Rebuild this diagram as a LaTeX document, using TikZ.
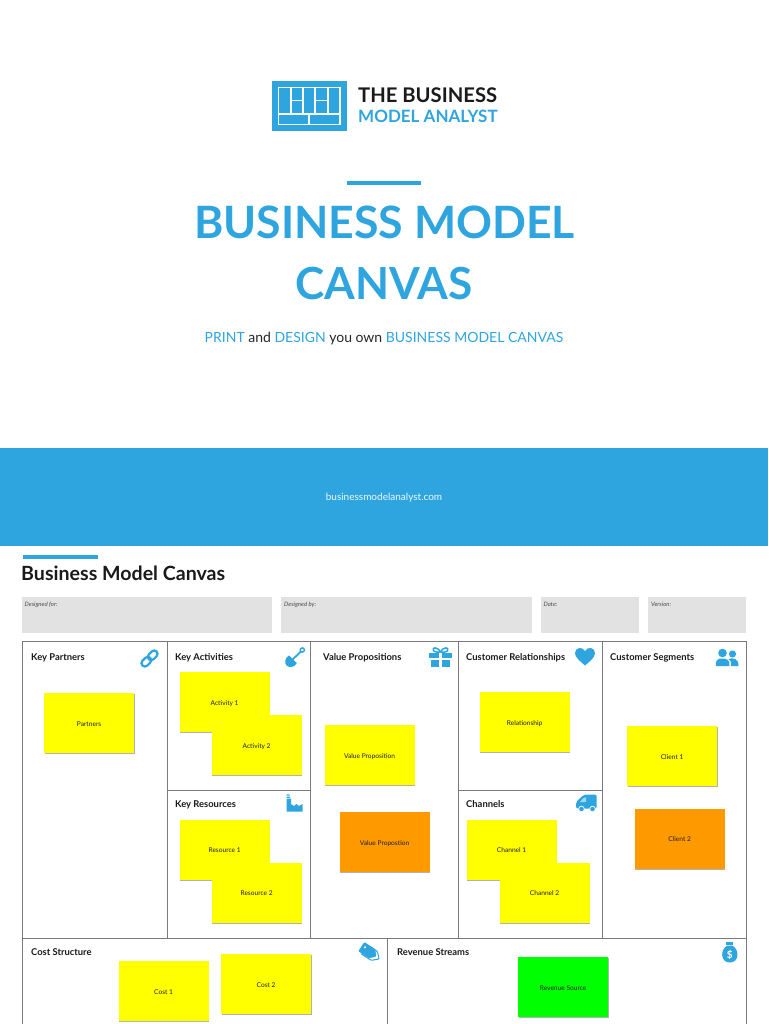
\documentclass[tikz,border=0pt]{standalone}
\usepackage{fontspec}
\setmainfont{Lato}
\definecolor{bmblue}{HTML}{2FA5DF}
\definecolor{bmgrey}{HTML}{E2E2E2}
\definecolor{bmline}{HTML}{7A7A7A}
\definecolor{bmorange}{HTML}{FF9900}
\definecolor{bmink}{HTML}{1A1A1A}
\definecolor{ryellow}{RGB}{255,255,0}
\definecolor{rgreen}{RGB}{0,255,0}
\usetikzlibrary{shadows}
\tikzset{
  x=1pt,y=-1pt,
  note/.style={fill=ryellow,minimum width=90pt,minimum height=60pt,inner sep=0pt,
    text height=6.7pt,text depth=0pt,xshift=-0.4pt,
    font=\fontsize{6.6}{8}\selectfont,text=black!88,
    drop shadow={shadow xshift=0.6pt,shadow yshift=-1.2pt,fill=black!40,opacity=.75}},
  onote/.style={note,fill=bmorange},
  gnote/.style={note,fill=rgreen},
  cell/.style={draw=bmline,line width=.9pt},
  head/.style={anchor=base west,font=\fontsize{9.4}{11}\selectfont\bfseries,text=bmink,inner sep=0pt},
  field/.style={fill=bmgrey,draw=none,anchor=north west,inner sep=0pt},
  fieldlabel/.style={anchor=base west,inner sep=0pt,font=\fontsize{6}{7}\selectfont\itshape,text=black!70},
  iconline/.style={draw=bmblue,fill=none},
}
\begin{document}
\begin{tikzpicture}
\useasboundingbox (0,0) rectangle (768,1024);
\fill[white] (0,0) rectangle (768,1024);
% logo
\fill[bmblue] (272,81) rectangle (346.5,131);
\draw[white,line width=1.5pt] (278.5,87.5) rectangle (340,124.5)
  (278.5,114) -- (340,114) (309,114) -- (309,124.5)
  (291,87.5) -- (291,114) (303,87.5) -- (303,114) (315,87.5) -- (315,114) (328,87.5) -- (328,114)
  (291,100.5) -- (303,100.5) (315,100.5) -- (328,100.5);
\node[anchor=base west,inner sep=0pt,font=\fontsize{20.2}{22}\selectfont\bfseries,text=bmink] (logoa) at (358,103) {THE BUSINESS};
\node[anchor=base west,inner sep=0pt,font=\fontsize{17}{20}\selectfont\bfseries,text=bmblue] (logob) at (358,123) {MODEL ANALYST};
% title
\fill[bmblue] (347,181) rectangle (421,185.5);
\node[inner sep=0pt,font=\fontsize{44.6}{48}\selectfont\bfseries,text=bmblue] (t1) at (384.5,222) {BUSINESS MODEL};
\node[inner sep=0pt,font=\fontsize{44.2}{48}\selectfont\bfseries,text=bmblue] (t2) at (384,283.5) {CANVAS};
\node[inner sep=0pt,font=\fontsize{14}{18}\selectfont,text=black!85] (sub) at (384,338.3) {\textcolor{bmblue}{PRINT} and \textcolor{bmblue}{DESIGN} you own \textcolor{bmblue}{BUSINESS MODEL CANVAS}};
% band
\fill[bmblue] (0,448) rectangle (768,546);
\node[inner sep=0pt,font=\fontsize{10}{11}\selectfont,text=white!92!bmblue] (url) at (384,498) {businessmodelanalyst.com};
% section
\fill[bmblue] (23,555) rectangle (97.5,559);
\node[anchor=base west,inner sep=0pt,font=\fontsize{19.6}{22}\selectfont\bfseries,text=bmink] (bmc) at (21,580) {Business Model Canvas};
\node[field,minimum width=250pt,minimum height=36pt] (f1) at (22,597) {};
\node[field,minimum width=251pt,minimum height=36pt] (f2) at (281,597) {};
\node[field,minimum width=98.5pt,minimum height=36pt] (f3) at (540.5,597) {};
\node[field,minimum width=98.5pt,minimum height=36pt] (f4) at (647.5,597) {};
\node[fieldlabel] (l1) at (24.5,606) {Designed for:};
\node[fieldlabel] (l2) at (284,606) {Designed by:};
\node[fieldlabel] (l3) at (543.5,606) {Date:};
\node[fieldlabel] (l4) at (651,606) {Version:};
% grid
\draw[cell] (22.5,1025) -- (22.5,641) -- (746,641) -- (746,1025);
\draw[cell] (22.5,938) -- (746,938);
\draw[cell] (167,641) -- (167,938) (310.5,641) -- (310.5,938) (458,641) -- (458,938) (602,641) -- (602,938);
\draw[cell] (167,790) -- (310.5,790) (458,790) -- (602,790);
\draw[cell] (387.5,938) -- (387.5,1025);
% heads
\node[head] (h1) at (31,660.8) {Key Partners};
\node[head] (h2) at (175,660.8) {Key Activities};
\node[head] (h3) at (323,660.8) {Value Propositions};
\node[head] (h4) at (466,660.8) {Customer Relationships};
\node[head] (h5) at (610,660.8) {Customer Segments};
\node[head] (h6) at (175,807.8) {Key Resources};
\node[head] (h7) at (466,807.8) {Channels};
\node[head] (h8) at (31,955.3) {Cost Structure};
\node[head] (h9) at (397,955.3) {Revenue Streams};
% notes
\node[note] (n1) at (89.5,723) {Partners};
\node[note] (n2) at (225,702) {Activity 1};
\node[note] (n3) at (257,745) {Activity 2};
\node[note] (n4) at (370,755) {Value Proposition};
\node[onote] (n5) at (385,842) {Value Propostion};
\node[note] (n6) at (525,722) {Relationship};
\node[note] (n7) at (672.5,756) {Client 1};
\node[onote] (n8) at (680,838.5) {Client 2};
\node[note] (n9) at (225,849.5) {Resource 1};
\node[note] (n10) at (257,892.5) {Resource 2};
\node[note] (n11) at (512,849.5) {Channel 1};
\node[note] (n12) at (545,892.5) {Channel 2};
\node[note] (n13) at (164,991) {Cost 1};
\node[note] (n14) at (266.5,984) {Cost 2};
\node[gnote] (n15) at (563.5,987) {Revenue Source};
% link
\begin{scope}[shift={(149.5,658.5)},rotate=45]
\draw[iconline,line width=2.2pt,rounded corners=3.4pt] (-10,-3.4) rectangle (1,3.4);
\draw[iconline,line width=2.2pt,rounded corners=3.4pt] (-1,-3.4) rectangle (10,3.4);
\end{scope}
% shovel
\draw[iconline,line width=1.8pt] (291,661) -- (301,651.5);
\draw[iconline,line width=1.4pt] (302.3,650) circle (2.1);
\fill[bmblue] (289,655.5) -- (296.8,663) .. controls (295,667.5) and (289,668) .. (286.5,665.5) .. controls (284,663) and (285,657.5) .. (289,655.5) -- cycle;
% gift
\fill[bmblue] (429,653) rectangle (439.3,658);
\fill[bmblue] (441.7,653) rectangle (452,658);
\fill[bmblue] (431,660) rectangle (439.3,667);
\fill[bmblue] (441.7,660) rectangle (450,667);
\draw[iconline,line width=1.5pt] (440.5,652) .. controls (437,646) and (432,647.5) .. (433.5,650.5) .. controls (434,652) and (438,652.5) .. (440.5,652);
\draw[iconline,line width=1.5pt] (440.5,652) .. controls (444,646) and (449,647.5) .. (447.5,650.5) .. controls (447,652) and (443,652.5) .. (440.5,652);
% heart
\fill[bmblue] (585,665.5) .. controls (580,661) and (575,657.5) .. (575,653) .. controls (575,647.5) and (582.5,646) .. (585,651) .. controls (587.5,646) and (595,647.5) .. (595,653) .. controls (595,657.5) and (590,661) .. (585,665.5) -- cycle;
% users
\fill[bmblue] (722.5,653) circle (4.3);
\fill[bmblue] (732.5,654) circle (3.6);
\fill[bmblue] (716,666) .. controls (715,659) and (719,658.5) .. (722.5,658.5) .. controls (727,658.5) and (730,660) .. (729.5,666) -- cycle;
\fill[bmblue] (731,666) .. controls (731.5,662) and (730.5,660) .. (728.5,659) .. controls (732,657.5) and (739,658) .. (738.5,666) -- cycle;
% factory
\fill[bmblue] (286.7,798.5) -- (291,798.5) -- (291,804) -- (294,806) -- (296.5,804) -- (299,806) -- (302.7,804) -- (302.7,811.5) -- (286.7,811.5) -- cycle;
\fill[bmblue] (286.7,794.3) rectangle (289.5,795.6) (286.7,796.6) rectangle (290,797.8);
% truck
\fill[bmblue,rounded corners=2pt] (584,794.5) -- (596.7,794.5) -- (596.7,808.5) -- (576,808.5) -- (576,802) -- cycle;
\fill[bmblue!45!white] (584,797.5) -- (580,802) -- (586,802) -- (586,797.5) -- cycle;
\fill[bmblue,draw=white,line width=.7pt] (581.5,809) circle (2.8);
\fill[bmblue,draw=white,line width=.7pt] (592.5,809) circle (2.8);
% tags
\begin{scope}[shift={(370,953)},rotate=-33]
\draw[iconline,line width=1pt,rounded corners=1pt] (-2,-5.5) -- (5,-5.5) -- (11,0) -- (5,5.5) -- (-7,5.5);
\end{scope}
\begin{scope}[shift={(368,951)},rotate=-33]
\fill[bmblue,rounded corners=1pt] (-8,-5.5) -- (5,-5.5) -- (10,0) -- (5,5.5) -- (-8,5.5) -- cycle;
\fill[white] (-4.5,-1.5) circle (1.2);
\end{scope}
% money bag
\fill[bmblue] (726.3,942) rectangle (733.3,944.5);
\fill[bmblue] (727.3,945.5) -- (732.3,945.5) .. controls (740,950) and (739,962.5) .. (729.8,962.5) .. controls (720.6,962.5) and (719.6,950) .. (727.3,945.5) -- cycle;
\node[inner sep=0pt,font=\fontsize{10}{10}\selectfont\bfseries,text=white] (dollar) at (729.8,954.5) {\$};
\end{tikzpicture}
\end{document}
